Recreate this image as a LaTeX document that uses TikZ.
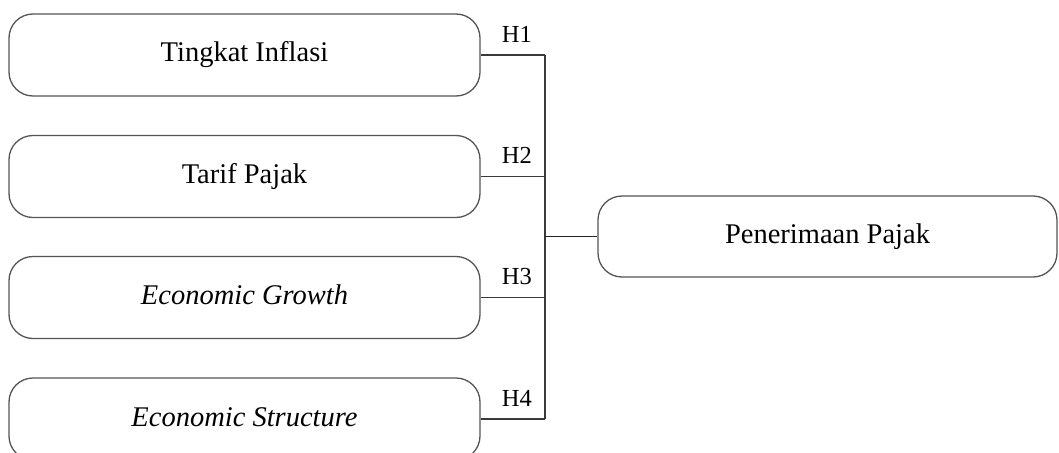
\documentclass[tikz,border=0pt]{standalone}
\usepackage{fontspec}
\setmainfont{Liberation Serif}
\begin{document}
\begin{tikzpicture}[x=1pt,y=-1pt,
  varbox/.style={draw=boxgray, line width=1.3pt, rounded corners=24pt,
    minimum width=471pt, minimum height=82pt, inner sep=0pt,
    text height=20pt, text depth=6pt, font=\fontsize{28.5}{34}\selectfont},
  conn/.style={draw=linegray, line width=1.3pt},
  hlabel/.style={above=12pt, inner sep=0pt, xshift=4pt, font=\fontsize{24.5}{29}\selectfont}]
\definecolor{boxgray}{HTML}{555555}
\definecolor{linegray}{HTML}{3A3A3A}
\useasboundingbox (0,0) rectangle (1059,452);
\fill[white] (0,0) rectangle (1059,452);
\node[varbox] (b1) at (244.5,55) {Tingkat Inflasi};
\node[varbox] (b2) at (244.5,176.5) {Tarif Pajak};
\node[varbox] (b3) at (244.5,297.5) {\itshape Economic Growth};
\node[varbox] (b4) at (244.5,419) {\itshape Economic Structure};
\node[varbox, minimum width=459pt, minimum height=81pt] (y) at (827.5,236.5) {Penerimaan Pajak};
\coordinate (top) at (545,55);
\coordinate (bot) at (545,419);
\coordinate (mid) at (545,236.5);
\draw[conn] (b1.east) -- node[hlabel] {H1} (top);
\draw[conn] (b2.east) -- node[hlabel] {H2} (b2.east -| top);
\draw[conn] (b3.east) -- node[hlabel] {H3} (b3.east -| top);
\draw[conn] (b4.east) -- node[hlabel] {H4} (bot);
\draw[conn] (top) -- (bot);
\draw[conn, line width=1.8pt, draw=black!85] (mid) -- (y.west);
\end{tikzpicture}
\end{document}
